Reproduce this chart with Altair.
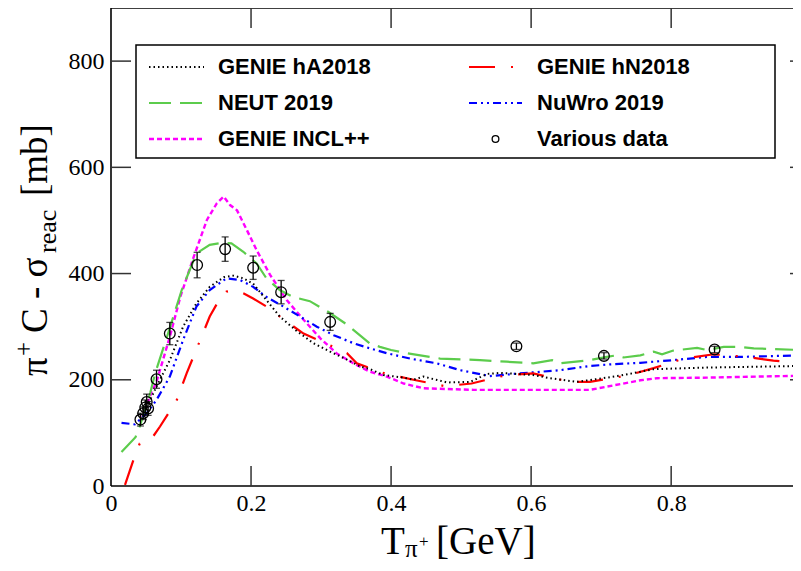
import altair as alt
import pandas as pd

# ---------------- data ----------------
HA_X = [0.051, 0.065, 0.084, 0.103, 0.122, 0.141, 0.161, 0.175, 0.189, 0.203, 0.222, 0.241,
        0.265, 0.289, 0.313, 0.337, 0.356, 0.370, 0.389, 0.418, 0.432, 0.446, 0.480, 0.513,
        0.537, 0.556, 0.603, 0.627, 0.665, 0.703, 0.732, 0.775, 0.851, 0.984, 1.0]
HA_Y = [149, 187, 237, 300, 344, 375, 393, 396, 391, 381, 350, 319,
        292, 269, 253, 238, 225, 220, 209, 204, 200, 206, 195, 196,
        211, 213, 209, 203, 196, 203, 209, 220, 223, 226, 226]

HN_X = [0.020, 0.032, 0.041, 0.060, 0.070, 0.094, 0.108, 0.141, 0.153, 0.165, 0.177, 0.189,
        0.203, 0.222, 0.244, 0.275, 0.318, 0.337, 0.351, 0.391, 0.432, 0.477, 0.515, 0.565,
        0.603, 0.656, 0.684, 0.737, 0.775, 0.818, 0.861, 0.908, 0.946, 0.968, 1.0]
HN_Y = [2, 49, 80, 93, 112, 162, 212, 319, 347, 366, 369, 363,
        353, 338, 316, 287, 262, 250, 231, 212, 200, 188, 193, 209,
        212, 196, 196, 208, 222, 240, 248, 243, 236, 234, 230]

NEUT_X = [0.015, 0.035, 0.041, 0.056, 0.063, 0.080, 0.101, 0.122, 0.141, 0.160, 0.172, 0.189,
          0.208, 0.222, 0.241, 0.260, 0.284, 0.310, 0.337, 0.370, 0.384, 0.400, 0.422, 0.470,
          0.527, 0.565, 0.603, 0.630, 0.641, 0.684, 0.708, 0.722, 0.732, 0.756, 0.775, 0.787,
          0.803, 0.837, 0.851, 0.875, 0.899, 0.918, 0.946, 0.984, 1.0]
NEUT_Y = [64, 92, 112, 175, 212, 281, 369, 438, 454, 458, 457, 441,
          419, 391, 369, 356, 348, 328, 304, 268, 262, 256, 250, 240,
          237, 234, 231, 237, 231, 237, 243, 246, 242, 246, 253, 248,
          255, 260, 256, 262, 262, 259, 258, 256, 256]

NUWRO_X = [0.015, 0.034, 0.051, 0.065, 0.084, 0.103, 0.122, 0.141, 0.165, 0.184, 0.203, 0.222,
           0.246, 0.270, 0.294, 0.318, 0.346, 0.370, 0.394, 0.427, 0.465, 0.499, 0.541, 0.584,
           0.641, 0.684, 0.713, 0.756, 0.803, 0.851, 0.899, 0.984, 1.0]
NUWRO_Y = [119, 116, 137, 162, 206, 275, 338, 369, 391, 388, 375, 356,
           338, 319, 300, 284, 269, 259, 250, 240, 231, 218, 207, 212,
           218, 226, 229, 232, 237, 243, 243, 246, 246]

INCL_X = [0.044, 0.058, 0.065, 0.084, 0.099, 0.118, 0.137, 0.151, 0.161, 0.170, 0.180, 0.194,
          0.208, 0.227, 0.251, 0.275, 0.299, 0.322, 0.346, 0.370, 0.394, 0.418, 0.446, 0.518,
          0.613, 0.684, 0.708, 0.756, 0.780, 0.851, 0.922, 1.0]
INCL_Y = [127, 177, 196, 281, 356, 431, 501, 532, 545, 529, 519, 482,
          444, 398, 350, 313, 278, 250, 231, 215, 206, 193, 184, 181,
          181, 181, 187, 199, 203, 204, 206, 208]

DATA_X = [0.042, 0.046, 0.049, 0.051, 0.053, 0.065, 0.084, 0.123, 0.163, 0.203, 0.243, 0.313,
          0.579, 0.704, 0.862]
DATA_Y = [125, 137, 148, 158, 146, 201, 287, 416, 446, 411, 365, 309, 263, 245, 257]
DATA_ERR = [12, 12, 14, 15, 13, 17, 21, 24, 23, 22, 22, 16, 6, 6, 6]

X_TICKS = [0, 0.2, 0.4, 0.6, 0.8]
Y_TICKS = [0, 200, 400, 600, 800]
X_MAX = 0.974   # the visible part of the 0..1 axis
Y_MAX = 900

LEGEND_LABELS = ["GENIE hA2018", "GENIE hN2018", "NEUT 2019", "NuWro 2019",
                 "GENIE INCL++", "Various data"]

# ---------------- styling ----------------
W, H = 682, 478
SERIF = "Liberation Serif"
SANS = "Liberation Sans"
GREEN = "#5ccc4c"

xs = alt.Scale(domain=[0, X_MAX], nice=False, zero=False)
ys = alt.Scale(domain=[0, Y_MAX], nice=False, zero=False)

xaxis = alt.Axis(values=X_TICKS, format=".1~f", title=None, ticks=False, domain=False,
                 grid=False, labelFont=SERIF, labelFontSize=24, labelColor="black",
                 labelPadding=5, labelFlush=False)
yaxis = alt.Axis(values=Y_TICKS, format="d", title=None, ticks=False, domain=False,
                 grid=False, labelFont=SERIF, labelFontSize=24, labelColor="black",
                 labelPadding=7)

STYLES = {
    "hA": ("black", [1.5, 3], 2.0),
    "hN": ("#ff0000", [26, 16, 2, 16], 2.2),
    "NEUT": (GREEN, [22, 9], 2.2),
    "NuWro": ("#0000ff", [8, 4, 2, 4, 2, 4], 2.2),
    "INCL": ("#ff00ff", [5, 3], 2.4),
}


def curve(xv, yv, key):
    color, dash, width = STYLES[key]
    df = pd.DataFrame({"x": xv, "y": yv})
    return alt.Chart(df).mark_line(color=color, strokeDash=dash, strokeWidth=width,
                                   clip=True).encode(
        x=alt.X("x:Q", scale=xs, axis=xaxis),
        y=alt.Y("y:Q", scale=ys, axis=yaxis),
    )


layers = [
    curve(INCL_X, INCL_Y, "INCL"),
    curve(NEUT_X, NEUT_Y, "NEUT"),
    curve(NUWRO_X, NUWRO_Y, "NuWro"),
    curve(HN_X, HN_Y, "hN"),
    curve(HA_X, HA_Y, "hA"),
]

# data points with error bars
ddf = pd.DataFrame({"x": DATA_X, "y": DATA_Y, "e": DATA_ERR})
ddf["lo"] = ddf["y"] - ddf["e"]
ddf["hi"] = ddf["y"] + ddf["e"]
base = alt.Chart(ddf)
layers.append(base.mark_rule(color="black", strokeWidth=1.3).encode(
    x=alt.X("x:Q", scale=xs, axis=xaxis), y=alt.Y("lo:Q", scale=ys, axis=yaxis), y2="hi:Q"))
for col in ("lo", "hi"):
    layers.append(base.mark_tick(color="black", orient="horizontal", size=7, thickness=1.3).encode(
        x=alt.X("x:Q", scale=xs, axis=xaxis), y=alt.Y(f"{col}:Q", scale=ys, axis=yaxis)))
layers.append(base.mark_point(shape="circle", filled=False, color="black", size=115,
                              strokeWidth=1.3, opacity=1).encode(
    x=alt.X("x:Q", scale=xs, axis=xaxis), y=alt.Y("y:Q", scale=ys, axis=yaxis)))

# frame (left, bottom, top; the right edge lies outside the picture)
one = alt.Chart(pd.DataFrame({"a": [0]}))
FRAME = dict(color="black", strokeWidth=1.6)
layers.append(one.mark_rule(**FRAME).encode(x=alt.value(0), y=alt.value(0), y2=alt.value(H)))
layers.append(one.mark_rule(**FRAME).encode(x=alt.value(0), x2=alt.value(W), y=alt.value(H)))
layers.append(one.mark_rule(**FRAME).encode(x=alt.value(0), x2=alt.value(W), y=alt.value(0)))

# inward ticks
ty = alt.Chart(pd.DataFrame({"v": Y_TICKS[1:]}))
tx = alt.Chart(pd.DataFrame({"v": X_TICKS[1:]}))
TICK = dict(color="#333333", strokeWidth=1.5)
layers.append(ty.mark_rule(**TICK).encode(y=alt.Y("v:Q", scale=ys, axis=yaxis),
                                          x=alt.value(0), x2=alt.value(20)))
layers.append(ty.mark_rule(**TICK).encode(y=alt.Y("v:Q", scale=ys, axis=yaxis),
                                          x=alt.value(W - 3), x2=alt.value(W)))
layers.append(tx.mark_rule(**TICK).encode(x=alt.X("v:Q", scale=xs, axis=xaxis),
                                          y=alt.value(H - 20), y2=alt.value(H)))
layers.append(tx.mark_rule(**TICK).encode(x=alt.X("v:Q", scale=xs, axis=xaxis),
                                          y=alt.value(0), y2=alt.value(20)))

# ---------------- legend (drawn by hand) ----------------
layers.append(one.mark_rect(fill="white", stroke="black", strokeWidth=1.5).encode(
    x=alt.value(25), x2=alt.value(664), y=alt.value(37), y2=alt.value(150)))

ROWS = [59, 95, 131]
COLS = [(38, 93, 107), (358, 411, 426)]
entries = [("hA", 0, 0), ("hN", 1, 0), ("NEUT", 0, 1), ("NuWro", 1, 1), ("INCL", 0, 2), (None, 1, 2)]
for label, (key, c, r) in zip(LEGEND_LABELS, entries):
    x1, x2, xt = COLS[c]
    yy = ROWS[r]
    if key is None:
        layers.append(one.mark_point(shape="circle", filled=False, color="black", size=45,
                                     strokeWidth=1.3, opacity=1).encode(
            x=alt.value((x1 + x2) / 2), y=alt.value(yy)))
    else:
        color, dash, width = STYLES[key]
        layers.append(one.mark_rule(color=color, strokeDash=dash, strokeWidth=width).encode(
            x=alt.value(x1), x2=alt.value(x2), y=alt.value(yy)))
    layers.append(one.mark_text(text=label, font=SANS, fontWeight="bold", fontSize=22,
                                align="left", baseline="middle", color="black").encode(
        x=alt.value(xt), y=alt.value(yy)))


# ---------------- axis titles with sub/superscripts ----------------
def txt(s, x, y, size, angle=0):
    return one.mark_text(text=s, font=SERIF, fontSize=size, align="left",
                         baseline="alphabetic", color="black", angle=angle).encode(
        x=alt.value(x), y=alt.value(y))


# x title: T_{pi+} [GeV]
layers += [
    txt("T", 270, 546, 39),
    txt("π", 294, 549, 25),
    txt("+", 308, 539, 17),
    txt("[GeV]", 325, 546, 39),
]
# y title: pi+ C - sigma_reac [mb]  (rotated, reading upwards)
YB = -64
layers += [
    txt("π", YB, 368, 37, 270),
    txt("+", YB - 15, 348, 25, 270),
    txt(" C - σ", YB, 325, 37, 270),
    txt("reac", YB + 9, 245, 26, 270),
    txt(" [mb]", YB, 188, 37, 270),
]

chart = alt.layer(*layers).properties(
    width=W, height=H,
    autosize=alt.AutoSizeParams(type="none"),
    padding={"left": 103, "top": 0, "right": 0, "bottom": 77},
    background="white",
).configure_view(strokeWidth=0)

chart.save("out.html", embed_options={"renderer": "svg", "actions": False})
